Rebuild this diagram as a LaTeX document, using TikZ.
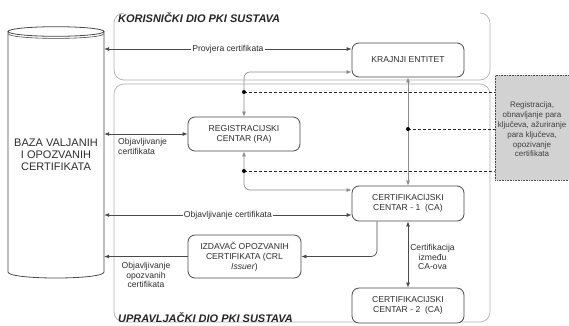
\documentclass[tikz,border=0pt]{standalone}
\usepackage{fontspec}
\setmainfont{Liberation Sans}
\usetikzlibrary{arrows.meta}
\definecolor{ln}{HTML}{4A4A4A}
\definecolor{lg}{HTML}{8C8C8C}
\definecolor{rg}{HTML}{B0B0B0}
\definecolor{tx}{HTML}{2E2E2E}
\definecolor{gbfill}{HTML}{D2D2D2}
\tikzset{tp/.tip={Latex[length=5pt,width=4pt]}}
\begin{document}
\begin{tikzpicture}[x=1pt,y=-1pt,
  box/.style={draw=ln, line width=0.8pt, rounded corners=7pt, fill=white, align=center,
    font=\fontsize{8.6}{10}\selectfont, text=tx, inner sep=0pt, minimum width=112pt},
  lbl/.style={font=\fontsize{8.6}{9.8}\selectfont, text=tx, inner sep=1pt},
  onl/.style={lbl, fill=white},
  dk/.style={draw=ln, line width=0.7pt},
  gr/.style={draw=lg, line width=0.7pt},
  dsh/.style={draw=black!85, line width=0.6pt, dash pattern=on 3pt off 2pt},
  region/.style={draw=rg, line width=0.7pt, rounded corners=10pt},
  rtitle/.style={font=\fontsize{11}{13}\selectfont\bfseries\itshape, text=black!85, inner sep=0pt, anchor=west},
  dot/.style={fill=black}
]
\useasboundingbox (0,0) rectangle (569,325);
\clip (0,0) rectangle (569,325);

% regions
\draw[region] (124,13) -- (114,13) -- (114,80) -- (490,80) -- (490,13) -- (480,13);
\draw[region] (114,84) rectangle (490,322);
\node[rtitle] (t1) at (118,18) {KORISNIČKI DIO PKI SUSTAVA};
\node[rtitle] (t2) at (118,318) {UPRAVLJAČKI DIO PKI SUSTAVA};

% cylinder
\fill[white] (8,32) -- (8,272) .. controls (8,280) and (104,280) .. (104,272) -- (104,32) -- cycle;
\draw[ln, line width=0.8pt] (8,32) -- (8,272) .. controls (8,280) and (104,280) .. (104,272) -- (104,32);
\draw[ln, line width=0.8pt, fill=white] (56,31.5) ellipse [x radius=48pt, y radius=4.8pt];
\draw[ln, line width=0.6pt] (8,33.5) .. controls (8,40) and (104,40) .. (104,33.5);
\node[align=center, font=\fontsize{11}{12}\selectfont, text=tx, minimum width=96pt, minimum height=234pt, inner sep=0pt]
  (db) at (56,155) {BAZA VALJANIH\\I OPOZVANIH\\CERTIFIKATA};

% grey side box
\node[draw=ln, densely dotted, line width=0.6pt, fill=gbfill, minimum width=80pt, minimum height=105pt, inner sep=0pt,
  anchor=north west] (gb) at (495,75) {};
\node[align=center, font=\fontsize{8}{9.8}\selectfont, text=black!75, inner sep=0pt] (gbt) at (532,129.5)
  {Registracija,\\obnavljanje para\\ključeva, ažuriranje\\para ključeva,\\opozivanje\\certifikata};

% boxes
\node[box, minimum height=34pt] (kr) at (408,60) {KRAJNJI ENTITET};
\node[box, minimum height=34pt] (ra) at (244,134) {REGISTRACIJSKI\\CENTAR (RA)};
\node[box, minimum height=35pt] (ca1) at (408,203.5) {CERTIFIKACIJSKI\\CENTAR - 1~~(CA)};
\node[box, minimum height=35pt] (ca2) at (408,305.5) {CERTIFIKACIJSKI\\CENTAR - 2~~(CA)};
\node[box, minimum height=43pt, minimum width=113pt] (izd) at (244.5,256.5) {IZDAVAČ OPOZVANIH\\CERTIFIKATA (CRL\\\textit{Issuer})};

% helper levels
\coordinate (y49) at (0,49);
\coordinate (y72) at (0,72);
\coordinate (y92) at (0,92);
\coordinate (y129) at (0,129);
\coordinate (y171) at (0,171);
\coordinate (y190) at (0,190);
\coordinate (y215) at (0,215);
\coordinate (x377) at (377,0);

% dark connectors
\draw[dk, tp-tp] (db.east |- y49) -- node[onl] {Provjera certifikata} (kr.west |- y49);
\draw[dk, tp-tp] (db.east |- ra.west) -- (ra.west);
\node[lbl, align=left, anchor=north west] (l1) at (117,137.5) {Objavljivanje\\certifikata};
\draw[dk, tp-tp] (db.east |- y215) -- node[onl] {Objavljivanje certifikata} (ca1.west |- y215);
\draw[dk, -tp, rounded corners=6pt] (x377 |- ca1.south) -- (x377 |- izd.east) -- (izd.east);
\draw[dk, -tp] (izd.west) -- (db.east |- izd.west);
\node[lbl, align=center] (l2) at (146,275) {Objavljivanje\\opozvanih\\certifikata};
\draw[dk, tp-tp] (ca1.south) -- (ca2.north);
\node[lbl, align=center] (l3) at (432.5,257) {Certifikacija\\između\\CA-ova};

% grey connectors
\draw[gr, tp-tp, rounded corners=6pt] (ra.north) -- (ra.north |- y72) -- (kr.west |- y72);
\draw[gr, tp-tp, rounded corners=6pt] (ra.south) -- (ra.south |- y190) -- (ca1.west |- y190);
\draw[gr, tp-tp] (kr.south) -- (ca1.north);

% dashed lines with dots
\draw[dsh] (ra.north |- y92) -- (gb.west |- y92);
\draw[dsh] (kr.south |- y129) -- (gb.west |- y129);
\draw[dsh] (ra.south |- y171) -- (gb.west |- y171);
\fill[dot] (ra.north |- y92) circle[radius=2pt];
\fill[dot] (kr.south |- y129) circle[radius=2pt];
\fill[dot] (ra.south |- y171) circle[radius=2pt];
\end{tikzpicture}
\end{document}
